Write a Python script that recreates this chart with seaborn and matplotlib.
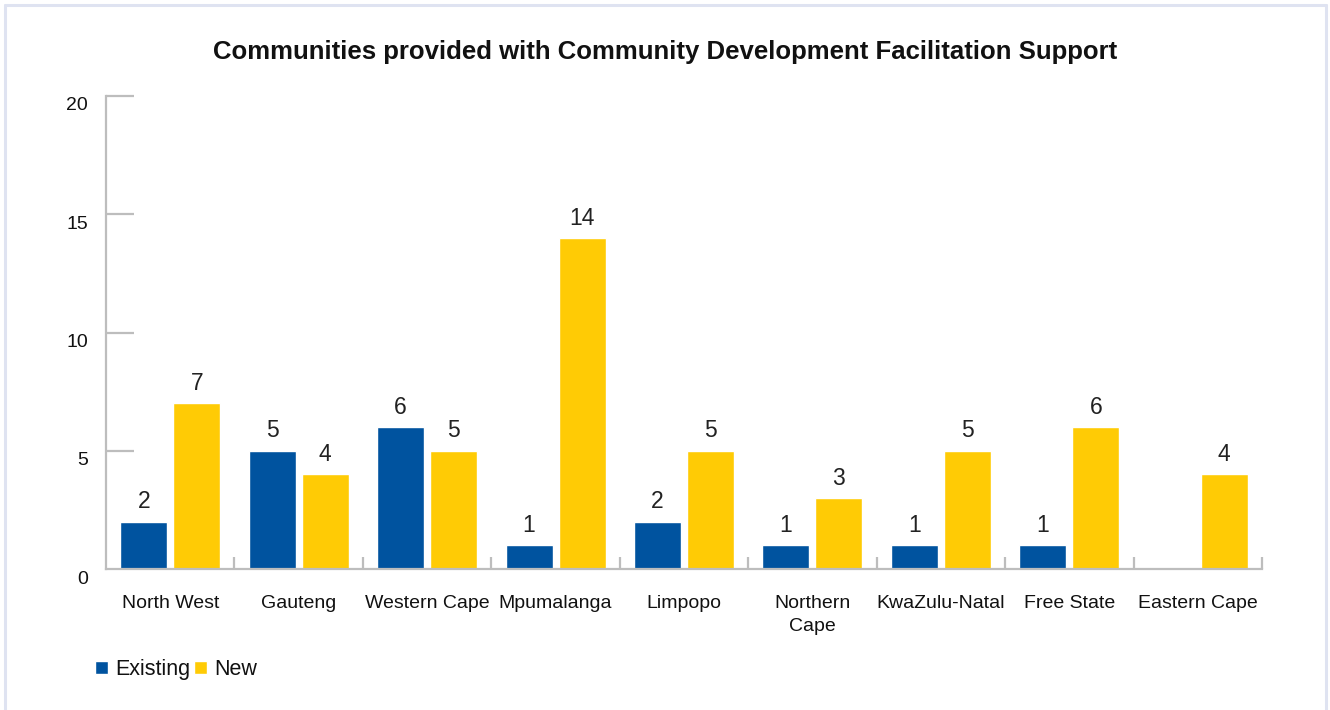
import matplotlib
matplotlib.use("Agg")
import matplotlib.pyplot as plt
from matplotlib.transforms import ScaledTranslation
from matplotlib.lines import Line2D
import numpy as np
import pandas as pd
import seaborn as sns

regions = ["North West", "Gauteng", "Western Cape", "Mpumalanga", "Limpopo",
           "Northern\nCape", "KwaZulu-Natal", "Free State", "Eastern Cape"]
existing = [2, 5, 6, 1, 2, 1, 1, 1, 0]
new = [7, 4, 5, 14, 5, 3, 5, 6, 4]
series_names = ["Existing", "New"]
colors = ["#00539f", "#ffcb05"]
y_ticks = [0, 5, 10, 15, 20]

df = pd.DataFrame({
    "region": regions * 2,
    "count": existing + new,
    "type": [series_names[0]] * len(regions) + [series_names[1]] * len(regions),
})

sns.set_theme(style="white")
plt.rcParams["font.family"] = ["Liberation Sans", "DejaVu Sans"]
plt.rcParams["text.color"] = "#111111"

dpi = 100
fig = plt.figure(figsize=(13.3, 7.1), dpi=dpi)
ax = fig.add_axes([106 / 1330, 1 - 569 / 710, (1262 - 106) / 1330, (569 - 96) / 710])

sns.barplot(data=df, x="region", y="count", hue="type", order=regions,
            hue_order=series_names, palette=colors, width=0.826, gap=0.114,
            saturation=1, ax=ax, legend=True)

for cont in ax.containers:
    labels = [f"{int(b.get_height())}" if b.get_height() > 0 else "" for b in cont]
    ax.bar_label(cont, labels=labels, padding=6, fontsize=16.5, color="#222222")

grey = "#bdbdbd"
ax.set_ylim(0, 20)
ax.set_xlim(-0.5, len(regions) - 0.5)
ax.set_yticks(y_ticks)
ax.set_xlabel("")
ax.set_ylabel("")
for s in ["top", "right"]:
    ax.spines[s].set_visible(False)
for s in ["left", "bottom"]:
    ax.spines[s].set_color(grey)
    ax.spines[s].set_linewidth(1.6)

ax.tick_params(axis="y", left=True, direction="in", length=20, width=1.6, color=grey,
               labelsize=14, pad=13, labelcolor="#111111")
ax.tick_params(axis="x", which="major", bottom=True, length=0, labelsize=14, pad=19,
               labelcolor="#111111")
ax.set_xticks(np.arange(len(regions)) + 0.5, minor=True)
ax.tick_params(axis="x", which="minor", bottom=True, direction="in", length=9,
               width=1.6, color=grey)
for t in ax.yaxis.get_major_ticks():
    if t.get_loc() == 0:
        t.tick1line.set_visible(False)
for lab in ax.get_xticklabels():
    lab.set_linespacing(1.4)

offset = ScaledTranslation(0, -8 / dpi, fig.dpi_scale_trans)
for lab in ax.get_yticklabels():
    lab.set_transform(lab.get_transform() + offset)

ax.get_legend().remove()
leg = fig.legend(*ax.get_legend_handles_labels(), loc="lower left",
                 bbox_to_anchor=(95 / 1330, 1 - 680 / 710), ncol=2, frameon=False,
                 fontsize=15.5, handlelength=0.6, handleheight=0.6,
                 handletextpad=0.35, columnspacing=0.17, borderpad=0, borderaxespad=0)

fig.text(0.5, 1 - 52 / 710,
         "Communities provided with Community Development Facilitation Support",
         ha="center", va="center", fontsize=18.5, fontweight="bold", color="#111111")

# light frame around the chart area
frame_c = "#dfe3f1"
fx0, fy0, fx1 = 5 / 1330, 1 - 5 / 710, 1326 / 1330
for xs, ys in [([fx0, fx0], [0, fy0]), ([fx0, fx1], [fy0, fy0]), ([fx1, fx1], [fy0, 0])]:
    fig.add_artist(Line2D(xs, ys, transform=fig.transFigure, color=frame_c, lw=2.2))

fig.savefig("out.png", dpi=dpi)
